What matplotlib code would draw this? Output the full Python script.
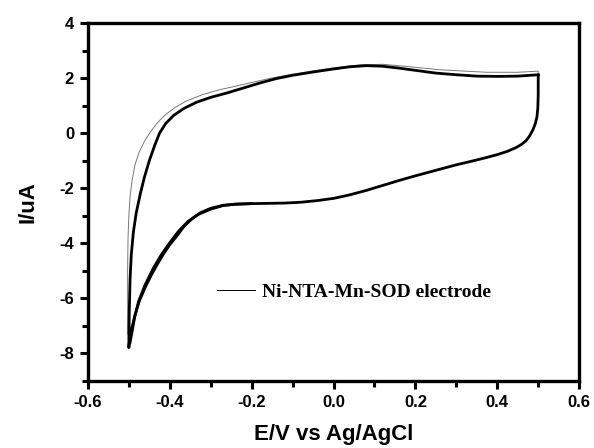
import matplotlib.pyplot as plt

plt.rcParams['axes.unicode_minus'] = False

# main cycles: cathodic sweep 0.5 -> -0.5, then anodic sweep -0.5 -> 0.5
down_E = [0.500, 0.500, 0.499, 0.497, 0.493, 0.487, 0.479, 0.470, 0.458, 0.445,
          0.425, 0.400, 0.370, 0.340, 0.300, 0.250, 0.200, 0.160, 0.120, 0.080,
          0.040, 0.000, -0.040, -0.080, -0.120, -0.160, -0.200, -0.240, -0.270,
          -0.300, -0.325, -0.345, -0.365, -0.383, -0.400, -0.415, -0.430, -0.445,
          -0.460, -0.474, -0.485, -0.493, -0.498, -0.500]
down_I = [2.10, 1.40, 0.90, 0.60, 0.35, 0.12, -0.10, -0.28, -0.42, -0.53,
          -0.66, -0.78, -0.90, -1.01, -1.15, -1.35, -1.55, -1.72, -1.90, -2.08,
          -2.24, -2.37, -2.45, -2.51, -2.54, -2.55, -2.56, -2.58, -2.62,
          -2.73, -2.89, -3.10, -3.38, -3.74, -4.05, -4.38, -4.75, -5.15,
          -5.60, -6.08, -6.60, -7.10, -7.50, -7.79]

up_E = [-0.500, -0.499, -0.497, -0.494, -0.489, -0.482, -0.472, -0.462, -0.450,
        -0.437, -0.425, -0.410, -0.390, -0.365, -0.335, -0.300, -0.260, -0.220,
        -0.180, -0.140, -0.100, -0.050, 0.000, 0.040, 0.080, 0.120, 0.160, 0.200,
        0.250, 0.300, 0.350, 0.400, 0.450, 0.500]
up_I = [-7.60, -6.50, -5.30, -4.40, -3.60, -2.90, -2.20, -1.60, -1.00,
        -0.45, 0.00, 0.35, 0.65, 0.90, 1.12, 1.30, 1.46, 1.64,
        1.82, 1.98, 2.10, 2.22, 2.33, 2.41, 2.45, 2.43, 2.36, 2.28,
        2.18, 2.12, 2.07, 2.06, 2.07, 2.12]

# later cycle, slightly shifted lower-left branch
down2_E = [-0.200, -0.240, -0.270, -0.300, -0.330, -0.355, -0.378, -0.400, -0.420,
           -0.440, -0.460, -0.476, -0.486, -0.492, -0.497]
down2_I = [-2.56, -2.58, -2.63, -2.76, -2.95, -3.20, -3.55, -3.98, -4.40,
           -4.90, -5.50, -6.10, -6.70, -7.20, -7.60]

# first cycle (thin grey)
first_E = [-0.503, -0.503, -0.502, -0.500, -0.497, -0.492, -0.485, -0.475, -0.462,
           -0.447, -0.430, -0.410, -0.385, -0.359, -0.320, -0.277, -0.220, -0.155,
           -0.100, -0.050, 0.000, 0.065, 0.120, 0.180, 0.260, 0.374, 0.450, 0.500,
           0.500, 0.499, 0.497]
first_I = [-7.30, -5.00, -3.80, -3.00, -2.30, -1.70, -1.15, -0.70, -0.30,
           0.05, 0.38, 0.68, 0.95, 1.17, 1.40, 1.58, 1.77, 1.99,
           2.14, 2.26, 2.37, 2.48, 2.50, 2.42, 2.30, 2.21, 2.21, 2.25,
           1.50, 0.90, 0.50]

fig = plt.figure(figsize=(5.94, 4.48), dpi=100)
ax = fig.add_axes([0.148, 0.1496, 0.827, 0.7991])

ax.plot(first_E, first_I, color='#777777', lw=0.7,
        label='Ni-NTA-Mn-SOD electrode')
ax.plot(down_E + up_E, down_I + up_I, color='black', lw=2.0)
ax.plot(down2_E, down2_I, color='black', lw=2.0)

ax.set_xlim(-0.6, 0.6)
ax.set_ylim(-9, 4)
ax.set_xticks([-0.6, -0.4, -0.2, 0.0, 0.2, 0.4, 0.6])
ax.set_xticks([-0.5, -0.3, -0.1, 0.1, 0.3, 0.5], minor=True)
ax.set_yticks([-8, -6, -4, -2, 0, 2, 4])
ax.set_yticks([-9, -7, -5, -3, -1, 1, 3], minor=True)

for s in ax.spines.values():
    s.set_linewidth(2.4)
ax.tick_params(which='major', direction='out', length=6, width=2.2, pad=4,
               labelsize=12)
ax.tick_params(which='minor', direction='out', length=4, width=2.2)
for lab in ax.get_xticklabels() + ax.get_yticklabels():
    lab.set_fontweight('bold')
    lab.set_family('Liberation Sans')

ax.set_xlabel('E/V vs Ag/AgCl', fontsize=16, fontweight='bold',
              family='Liberation Sans', labelpad=10)
ax.set_ylabel('I/uA', fontsize=16, fontweight='bold',
              family='Liberation Sans', labelpad=15)

leg = ax.legend(loc='center left', bbox_to_anchor=(0.263, 0.249), frameon=False,
                borderpad=0, borderaxespad=0, handlelength=1.95, handletextpad=0.36,
                prop={'family': 'Liberation Serif', 'weight': 'bold', 'size': 14})
leg.get_lines()[0].set_color('black')

fig.savefig('out.png', dpi=100)
